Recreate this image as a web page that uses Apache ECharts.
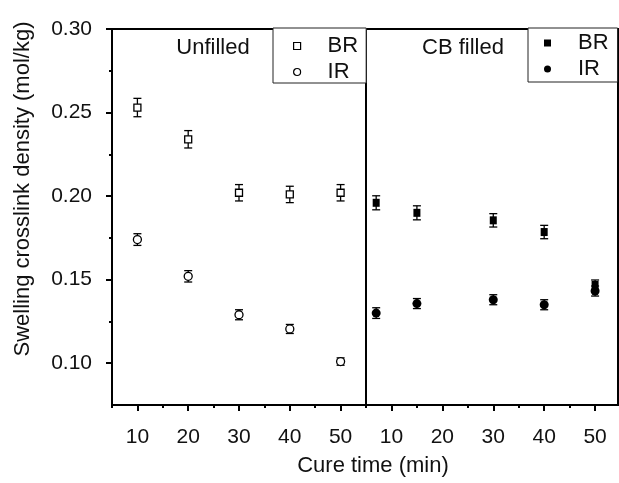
<!DOCTYPE html>
<html>
<head>
<meta charset="utf-8">
<script src="https://cdn.jsdelivr.net/npm/echarts@6/dist/echarts.min.js"></script>
<style>
html,body{margin:0;padding:0;background:#fff;}
#chart{width:619px;height:483px;}
</style>
</head>
<body>
<div id="chart"></div>
<script>
// ---- data ----
const timeUnfilled = [10, 20, 30, 40, 50];
const timeFilled = [7, 15, 30, 40, 50];
const brUnfilled = [0.253, 0.234, 0.202, 0.201, 0.202];
const brUnfilledErr = [0.0055, 0.0052, 0.0049, 0.0049, 0.0049];
const irUnfilled = [0.174, 0.152, 0.129, 0.1205, 0.101];
const irUnfilledErr = [0.0035, 0.0034, 0.003, 0.0027, 0.0022];
const brFilled = [0.196, 0.190, 0.1855, 0.1785, 0.1468];
const brFilledErr = [0.0042, 0.0042, 0.004, 0.004, 0.003];
const irFilled = [0.130, 0.1357, 0.138, 0.135, 0.1432];
const irFilledErr = [0.0032, 0.003, 0.003, 0.003, 0.003];
const xMajorTicks = [10, 20, 30, 40, 50];
const xMinorTicksLeft = [5, 15, 25, 35, 45];
const xMinorTicksRight = [5, 15, 25, 35, 45];
const yMajorTicks = [0.10, 0.15, 0.20, 0.25, 0.30];
const yMinorTicks = [0.125, 0.175, 0.225, 0.275];

const FONT = '"Liberation Sans", Arial, Helvetica, sans-serif';
const TXT = '#111';

function pairs(xs, ys, es) {
  return xs.map((x, i) => es ? [x, ys[i], es[i]] : [x, ys[i]]);
}

function errRender(params, api) {
  const x = api.value(0), y = api.value(1), e = api.value(2);
  const t = api.coord([x, y + e]);
  const b = api.coord([x, y - e]);
  const hw = 4;
  const st = {stroke: '#000', lineWidth: 1.3};
  return {type: 'group', children: [
    {type: 'line', shape: {x1: t[0], y1: t[1], x2: b[0], y2: b[1]}, style: st},
    {type: 'line', shape: {x1: t[0] - hw, y1: t[1], x2: t[0] + hw, y2: t[1]}, style: st},
    {type: 'line', shape: {x1: b[0] - hw, y1: b[1], x2: b[0] + hw, y2: b[1]}, style: st}
  ]};
}

function majorX(gridIndex, max) {
  return {
    type: 'value', gridIndex, min: 5, max, position: 'bottom',
    axisLine: {show: true, lineStyle: {color: '#000', width: 2}},
    axisTick: {show: true, inside: false, length: 6, lineStyle: {color: '#000', width: 2}, customValues: xMajorTicks},
    axisLabel: {show: true, customValues: xMajorTicks, margin: 22, fontSize: 21, color: TXT, fontFamily: FONT},
    splitLine: {show: false}
  };
}
function minorX(gridIndex, max, vals) {
  return {
    type: 'value', gridIndex, min: 5, max, position: 'bottom',
    axisLine: {show: false},
    axisTick: {show: true, inside: false, length: 3, lineStyle: {color: '#000', width: 2}, customValues: vals},
    axisLabel: {show: false},
    splitLine: {show: false}
  };
}

const option = {
  backgroundColor: '#fff',
  animation: false,
  grid: [
    {left: 112, top: 29, width: 254, height: 376, show: true, borderColor: '#000', borderWidth: 2, backgroundColor: 'transparent'},
    {left: 366, top: 29, width: 252, height: 376, show: true, borderColor: '#000', borderWidth: 2, backgroundColor: 'transparent'}
  ],
  xAxis: [
    majorX(0, 55), minorX(0, 55, xMinorTicksLeft),
    majorX(1, 54.5), minorX(1, 54.5, xMinorTicksRight)
  ],
  yAxis: [
    {
      type: 'value', gridIndex: 0, min: 0.075, max: 0.30, position: 'left',
      axisLine: {show: true, lineStyle: {color: '#000', width: 2}},
      axisTick: {show: true, inside: false, length: 6, lineStyle: {color: '#000', width: 2}, customValues: yMajorTicks},
      axisLabel: {show: true, customValues: yMajorTicks, margin: 20, fontSize: 21, color: TXT, fontFamily: FONT,
        formatter: v => v.toFixed(2)},
      splitLine: {show: false}
    },
    {
      type: 'value', gridIndex: 0, min: 0.075, max: 0.30, position: 'left',
      axisLine: {show: false},
      axisTick: {show: true, inside: false, length: 3, lineStyle: {color: '#000', width: 2}, customValues: yMinorTicks},
      axisLabel: {show: false},
      splitLine: {show: false}
    },
    {
      type: 'value', gridIndex: 1, min: 0.075, max: 0.30, position: 'left',
      axisLine: {show: false}, axisTick: {show: false}, axisLabel: {show: false}, splitLine: {show: false}
    }
  ],
  legend: [
    {
      orient: 'vertical', left: 273, top: 28, padding: [7, 8, 0, 20], itemGap: 4,
      itemWidth: 7, itemHeight: 7, selectedMode: false,
      borderColor: '#222', borderWidth: 1, backgroundColor: '#fff',
      data: ['BR unfilled', 'IR unfilled'],
      formatter: n => n.split(' ')[0],
      itemStyle: {borderWidth: 1.2},
      textStyle: {fontSize: 22, color: TXT, fontFamily: FONT, padding: [0, 0, 0, 22]}
    },
    {
      orient: 'vertical', left: 528, top: 28, padding: [4, 9, 2, 16], itemGap: 4,
      itemWidth: 7, itemHeight: 7, selectedMode: false,
      borderColor: '#222', borderWidth: 1, backgroundColor: '#fff',
      data: ['BR filled', 'IR filled'],
      formatter: n => n.split(' ')[0],
      itemStyle: {borderWidth: 0},
      textStyle: {fontSize: 22, color: TXT, fontFamily: FONT, padding: [0, 0, 0, 22]}
    }
  ],
  graphic: [
    {type: 'text', x: 213, y: 48, style: {text: 'Unfilled', fill: TXT, font: '22px ' + FONT, align: 'center', verticalAlign: 'middle'}, z: 10},
    {type: 'text', x: 463, y: 48, style: {text: 'CB filled', fill: TXT, font: '22px ' + FONT, align: 'center', verticalAlign: 'middle'}, z: 10},
    {type: 'text', x: 373, y: 466, style: {text: 'Cure time (min)', fill: TXT, font: '22px ' + FONT, align: 'center', verticalAlign: 'middle'}},
    {type: 'text', x: 23, y: 189, rotation: Math.PI / 2, style: {text: 'Swelling crosslink density (mol/kg)', fill: TXT, font: '22px ' + FONT, align: 'center', verticalAlign: 'middle'}}
  ],
  series: [
    {name: 'errBRu', type: 'custom', xAxisIndex: 0, yAxisIndex: 0, renderItem: errRender, data: pairs(timeUnfilled, brUnfilled, brUnfilledErr), z: 2, encode: {x: 0, y: 1}},
    {name: 'errIRu', type: 'custom', xAxisIndex: 0, yAxisIndex: 0, renderItem: errRender, data: pairs(timeUnfilled, irUnfilled, irUnfilledErr), z: 2, encode: {x: 0, y: 1}},
    {name: 'errBRf', type: 'custom', xAxisIndex: 2, yAxisIndex: 2, renderItem: errRender, data: pairs(timeFilled, brFilled, brFilledErr), z: 2, encode: {x: 0, y: 1}},
    {name: 'errIRf', type: 'custom', xAxisIndex: 2, yAxisIndex: 2, renderItem: errRender, data: pairs(timeFilled, irFilled, irFilledErr), z: 2, encode: {x: 0, y: 1}},
    {name: 'BR unfilled', type: 'scatter', xAxisIndex: 0, yAxisIndex: 0, symbol: 'rect', symbolSize: 7,
      itemStyle: {color: '#fff', borderColor: '#000', borderWidth: 1.3, opacity: 1}, data: pairs(timeUnfilled, brUnfilled), z: 3},
    {name: 'IR unfilled', type: 'scatter', xAxisIndex: 0, yAxisIndex: 0, symbol: 'circle', symbolSize: 8,
      itemStyle: {color: '#fff', borderColor: '#000', borderWidth: 1.3, opacity: 1}, data: pairs(timeUnfilled, irUnfilled), z: 3},
    {name: 'BR filled', type: 'scatter', xAxisIndex: 2, yAxisIndex: 2, symbol: 'rect', symbolSize: [7, 8],
      itemStyle: {color: '#000', opacity: 1}, data: pairs(timeFilled, brFilled), z: 3},
    {name: 'IR filled', type: 'scatter', xAxisIndex: 2, yAxisIndex: 2, symbol: 'circle', symbolSize: 9,
      itemStyle: {color: '#000', opacity: 1}, data: pairs(timeFilled, irFilled), z: 3}
  ]
};

const chart = echarts.init(document.getElementById('chart'), null, {renderer: 'canvas'});
chart.setOption(option);
</script>
</body>
</html>
